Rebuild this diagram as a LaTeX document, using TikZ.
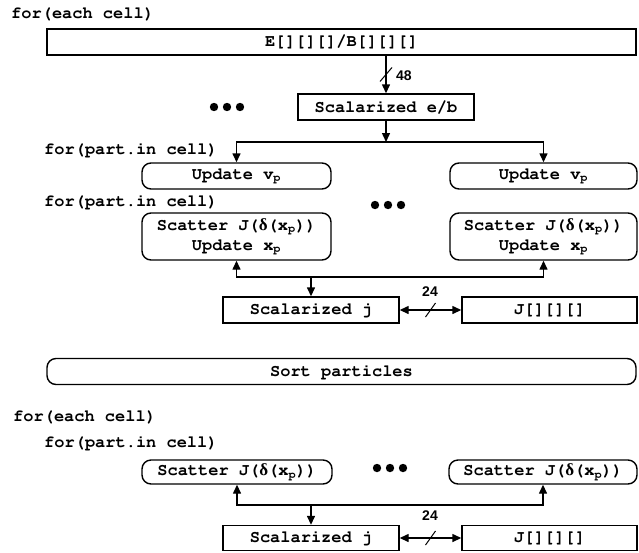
\documentclass[tikz,border=0pt]{standalone}
\usepackage{fontspec}
\newfontfamily\numfont{Liberation Sans}
\newfontfamily\grkfont{Liberation Serif}
\newcommand{\cour}{\fontencoding{T1}\fontfamily{pcr}\bfseries\fontsize{17}{20}\selectfont}
\newcommand{\dlt}{{\grkfont\bfseries δ}}
\usepackage{tikz}
\usetikzlibrary{arrows, arrows.meta, positioning, calc}

\begin{document}
\begin{tikzpicture}[
    x=1pt, y=-1pt,
    box/.style={rectangle, draw, line width=1.4pt, minimum height=26pt, inner sep=0pt, align=center, font=\cour},
    rbox/.style={box, rounded corners=9pt},
    lbl/.style={anchor=west, inner sep=0pt, font=\cour},
    num/.style={inner sep=0pt, font=\numfont\bfseries\fontsize{14}{14}\selectfont},
    arr/.style={-{Triangle[length=9pt,width=8pt]}, line width=1.4pt},
    dbl/.style={{Triangle[length=9pt,width=8pt]}-{Triangle[length=9pt,width=8pt]}, line width=1.4pt}
]
    \useasboundingbox (0,0) rectangle (639,552);

    % TOP: GATHER FIELDS, PUSH, DEPOSIT
    \node (cellA) [lbl] at (11,14) {for(each cell)};
    \node (EB) [box, minimum width=589pt] at (341.5,42) {E[][][]/B[][][]};
    \node (SEB) [box, minimum width=176pt] at (386,107) {Scalarized e/b};
    \draw[arr] (SEB.north |- EB.south) -- coordinate[pos=0.5] (cutA) (SEB.north);
    \draw[line width=1pt] (cutA) +(-6,7) -- +(6,-7);
    \node[num, anchor=west] at (396,76) {48};
    \coordinate (dotsA) at (227,107);
    \foreach \dx in {-13,0,13} \fill (dotsA) ++(\dx,0) circle (4.2);

    \coordinate (busA) at (386,142);
    \draw[arr] (SEB.south) -- (busA);
    \node (partA) [lbl] at (44,150) {for(part.in cell)};
    \node (UV1) [rbox, minimum width=189pt] at (236.5,176) {Update v\textsubscript{p}};
    \node (UV2) [rbox, minimum width=187pt] at (543.5,176) {Update v\textsubscript{p}};
    \draw[arr] (busA) -| (UV1.north);
    \draw[arr] (busA) -| (UV2.north);

    \node (partB) [lbl] at (44,202) {for(part.in cell)};
    \coordinate (dotsB) at (388,205);
    \foreach \dx in {-13,0,13} \fill (dotsB) ++(\dx,0) circle (4.2);
    \node (SU1) [rbox, minimum width=189pt, minimum height=47pt] at (236.5,236.5) {Scatter J(\dlt(x\textsubscript{p}))\\Update x\textsubscript{p}};
    \node (SU2) [rbox, minimum width=187pt, minimum height=47pt] at (543.5,236.5) {Scatter J(\dlt(x\textsubscript{p}))\\Update x\textsubscript{p}};

    \node (SJA) [box, minimum width=176pt] at (311,310) {Scalarized j};
    \node (JA) [box, minimum width=175pt] at (549.5,310) {J[][][]};
    \coordinate (busB) at (311,277);
    \draw[arr] (busB) -| (SU1.south);
    \draw[arr] (busB) -| (SU2.south);
    \draw[arr] (busB) -- (SJA.north);
    \draw[dbl] (SJA) -- coordinate (cutB) (JA);
    \draw[line width=1pt] (cutB) +(-5,7) -- +(5,-7);
    \node[num] at (430,292) {24};

    % MIDDLE: SORT
    \node (SP) [rbox, minimum width=589pt] at (341.5,371.5) {Sort particles};

    % BOTTOM: DEPOSIT ONLY
    \node (cellB) [lbl] at (13,417) {for(each cell)};
    \node (partC) [lbl] at (44,443) {for(part.in cell)};
    \node (SC1) [rbox, minimum width=190pt, minimum height=24pt] at (237,472) {Scatter J(\dlt(x\textsubscript{p}))};
    \node (SC2) [rbox, minimum width=188pt, minimum height=24pt] at (543,472) {Scatter J(\dlt(x\textsubscript{p}))};
    \coordinate (dotsC) at (390,468);
    \foreach \dx in {-13,0,13} \fill (dotsC) ++(\dx,0) circle (4.2);

    \node (SJB) [box, minimum width=176pt, minimum height=25pt] at (311,538) {Scalarized j};
    \node (JB) [box, minimum width=175pt, minimum height=25pt] at (549.5,538) {J[][][]};
    \coordinate (busC) at (311,505);
    \draw[arr] (busC) -| (SC1.south);
    \draw[arr] (busC) -| (SC2.south);
    \draw[arr] (busC) -- (SJB.north);
    \draw[dbl] (SJB) -- coordinate (cutC) (JB);
    \draw[line width=1pt] (cutC) +(-5,7) -- +(5,-7);
    \node[num] at (430,516) {24};
\end{tikzpicture}
\end{document}
